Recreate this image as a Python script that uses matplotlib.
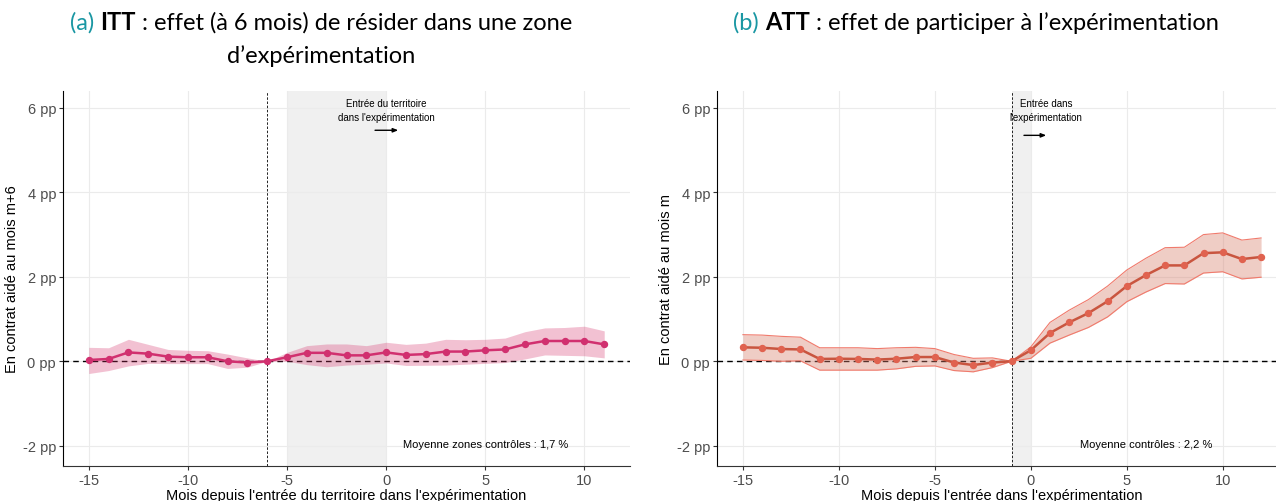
import numpy as np
import matplotlib
matplotlib.use('Agg')
from matplotlib import pyplot as plt

plt.rcParams['axes.unicode_minus'] = False

# panel (a) ITT
months_a = list(range(-15, 12))
itt = [0.03, 0.055, 0.21, 0.18, 0.11, 0.095, 0.095, 0.0, -0.03, 0.0,
       0.095, 0.20, 0.20, 0.14, 0.14, 0.21, 0.15, 0.17, 0.23, 0.23,
       0.26, 0.28, 0.40, 0.48, 0.48, 0.48, 0.40]
itt_hi = [0.33, 0.32, 0.52, 0.40, 0.28, 0.26, 0.25, 0.17, 0.08, 0.0,
          0.21, 0.37, 0.41, 0.41, 0.37, 0.45, 0.40, 0.43, 0.52, 0.51,
          0.52, 0.55, 0.70, 0.79, 0.80, 0.83, 0.72]
itt_lo = [-0.29, -0.22, -0.11, -0.05, -0.055, -0.055, -0.055, -0.17, -0.14, 0.0,
          0.0, -0.08, -0.13, -0.09, -0.07, -0.04, -0.10, -0.095, -0.09, -0.07,
          -0.05, -0.03, 0.055, 0.15, 0.14, 0.13, 0.08]

# panel (b) ATT
months_b = list(range(-15, 13))
att = [0.33, 0.32, 0.29, 0.28, 0.055, 0.06, 0.055, 0.04, 0.06, 0.10,
       0.10, -0.03, -0.09, -0.03, 0.0, 0.26, 0.67, 0.92, 1.14, 1.42,
       1.78, 2.04, 2.27, 2.27, 2.56, 2.58, 2.42, 2.47]
att_hi = [0.63, 0.62, 0.59, 0.57, 0.32, 0.32, 0.32, 0.30, 0.32, 0.33,
          0.30, 0.16, 0.07, 0.08, 0.0, 0.34, 0.92, 1.21, 1.46, 1.78,
          2.16, 2.44, 2.69, 2.70, 3.00, 3.04, 2.87, 2.92]
att_lo = [0.03, 0.02, 0.0, 0.01, -0.21, -0.21, -0.21, -0.21, -0.18, -0.12,
          -0.11, -0.22, -0.25, -0.15, 0.0, 0.07, 0.43, 0.62, 0.80, 1.05,
          1.41, 1.64, 1.84, 1.83, 2.09, 2.12, 1.95, 1.99]

yticks = [-2, 0, 2, 4, 6]
ytick_labels = ['-2 pp', '0 pp', '2 pp', '4 pp', '6 pp']
xticks = [-15, -10, -5, 0, 5, 10]

fig = plt.figure(figsize=(12.76, 5.02), dpi=100)
ax1 = fig.add_axes([63/1276, 35/502, 567/1276, 375/502])
ax2 = fig.add_axes([717/1276, 35/502, 570/1276, 375/502])

font = 'Liberation Sans'


def style(ax, xlim):
    ax.set_xlim(*xlim)
    ax.set_ylim(-2.48, 6.4)
    ax.set_xticks(xticks)
    ax.set_yticks(yticks)
    ax.set_yticklabels(ytick_labels)
    ax.grid(True, color='#ebebeb', linewidth=0.8)
    ax.set_axisbelow(True)
    for s in ['top', 'right']:
        ax.spines[s].set_visible(False)
    ax.spines['left'].set_color('black')
    ax.spines['bottom'].set_color('#333333')
    ax.tick_params(length=3, color='#333333', labelcolor='#4d4d4d', labelsize=10.5, pad=2)
    for lab in ax.get_xticklabels() + ax.get_yticklabels():
        lab.set_fontfamily(font)
    ax.axhline(0, color='black', linestyle=(0, (4, 3)), linewidth=1, zorder=2)


# (a)
style(ax1, (-16.3, 12.3))
ax1.axvspan(-5, 0, color='#f0f0f0', zorder=0, linewidth=0)
ax1.axvline(-6, color='black', linestyle=(0, (3, 2)), linewidth=0.6)
ax1.fill_between(months_a, itt_lo, itt_hi, color='#d6336c', alpha=0.3, linewidth=0, zorder=3)
ax1.plot(months_a, itt, color='#d1306f', linewidth=1.8, marker='o', markersize=4.3, zorder=4)
ax1.text(0, 5.95, "Entrée du territoire\ndans l'expérimentation", ha='center', va='center',
         fontsize=7, family=font, linespacing=1.5)
ax1.annotate('', xy=(0.75, 5.47), xytext=(-0.7, 5.47),
             arrowprops=dict(arrowstyle='-|>,head_length=0.3,head_width=0.12', color='black', lw=1))
ax1.text(5, -1.97, 'Moyenne zones contrôles : 1,7 %', ha='center', va='center', fontsize=8, family=font)
ax1.set_xlabel("Mois depuis l'entrée du territoire dans l'expérimentation", fontsize=10.5,
               family=font, labelpad=1)
ax1.set_ylabel('En contrat aidé au mois m+6', fontsize=10.5, family=font, labelpad=3)

# (b)
style(ax2, (-16.35, 13.35))
ax2.axvspan(-1, 0, color='#f0f0f0', zorder=0, linewidth=0)
ax2.axvline(-1, color='black', linestyle=(0, (3, 2)), linewidth=0.6)
ax2.fill_between(months_b, att_lo, att_hi, color='#d9826f', alpha=0.4, linewidth=0, zorder=3)
ax2.plot(months_b, att_hi, color='#f07a6c', linewidth=0.8, zorder=3)
ax2.plot(months_b, att_lo, color='#f07a6c', linewidth=0.8, zorder=3)
ax2.plot(months_b, att, color='#c9553f', linewidth=1.8, zorder=4)
ax2.plot(months_b, att, linestyle='none', marker='o', markersize=4.3, color='#e0624f', zorder=5)
ax2.text(0.8, 5.95, "Entrée dans\nl'expérimentation", ha='center', va='center',
         fontsize=7, family=font, linespacing=1.5)
ax2.annotate('', xy=(0.95, 5.35), xytext=(-0.5, 5.35),
             arrowprops=dict(arrowstyle='-|>,head_length=0.3,head_width=0.12', color='black', lw=1))
ax2.text(6, -1.97, 'Moyenne contrôles : 2,2 %', ha='center', va='center', fontsize=8, family=font)
ax2.set_xlabel("Mois depuis l'entrée dans l'expérimentation", fontsize=10.5, family=font, labelpad=1)
ax2.set_ylabel('En contrat aidé au mois m', fontsize=10.5, family=font, labelpad=3)

# titles built from coloured / bold pieces
renderer = fig.canvas.get_renderer()


def title_line(cx, cy, pieces, size=17):
    texts = []
    for s, color, weight in pieces:
        t = fig.text(0, 0, s, color=color, fontweight=weight, fontsize=size,
                     family='Lato', va='center', ha='left')
        texts.append(t)
    widths = [t.get_window_extent(renderer).width for t in texts]
    x = cx - sum(widths) / 2
    for t, w in zip(texts, widths):
        t.set_position((x / 1276, 1 - cy / 502))
        x += w


teal = '#1a97a3'
title_line(321, 23, [('(a) ', teal, 'normal'), ('ITT', 'black', 'bold'),
                     (' : effet (à 6 mois) de résider dans une zone', 'black', 'normal')])
title_line(321, 56, [('d’expérimentation', 'black', 'normal')])
title_line(976, 23, [('(b) ', teal, 'normal'), ('ATT', 'black', 'bold'),
                     (' : effet de participer à l’expérimentation', 'black', 'normal')])

fig.savefig('out.png', dpi=100)
